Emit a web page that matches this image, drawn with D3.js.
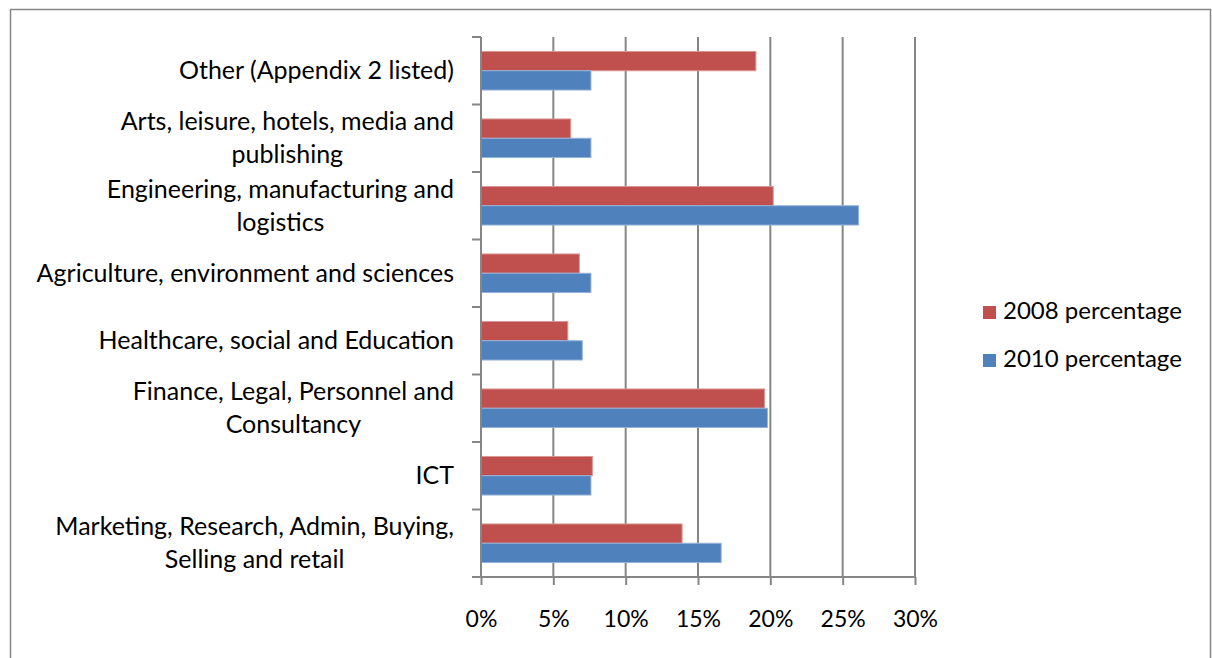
<!DOCTYPE html>
<html>
<head>
<meta charset="utf-8">
<script src="https://cdn.jsdelivr.net/npm/d3@7"></script>
<style>
  html, body { margin: 0; padding: 0; background: #fff; }
  svg { display: block; }
  text { font-family: Lato, "Open Sans", sans-serif; fill: #000; }
</style>
</head>
<body>
<svg id="chart" width="1212" height="658"></svg>
<script>
// Sectors, listed top to bottom; a "|" marks where a label wraps.
const categories = [
  "Other (Appendix 2 listed)",
  "Arts, leisure, hotels, media and|publishing",
  "Engineering, manufacturing and|logistics",
  "Agriculture, environment and sciences",
  "Healthcare, social and Education",
  "Finance, Legal, Personnel and|Consultancy",
  "ICT",
  "Marketing, Research, Admin, Buying,|Selling and retail"
];
const seriesNames = ["2008 percentage", "2010 percentage"];
const values2008 = [19.0, 6.2, 20.2, 6.8, 6.0, 19.6, 7.7, 13.9];
const values2010 = [7.6, 7.6, 26.1, 7.6, 7.0, 19.8, 7.6, 16.6];
const xTicks = [0, 5, 10, 15, 20, 25, 30];

const colors = ["#C0504D", "#4F81BD"];
const edges = ["#D99694", "#95B3D7"];

const svg = d3.select("#chart");

// outer chart frame
svg.append("rect")
  .attr("x", 10.5).attr("y", 9.5)
  .attr("width", 1200).attr("height", 660)
  .attr("fill", "#fff").attr("stroke", "#868686").attr("stroke-width", 1.5);

const plot = { left: 481, right: 915, top: 37, bottom: 577 };

const x = d3.scaleLinear().domain([0, 30]).range([plot.left, plot.right]);

// gap width 150%: the two bars fill 2 of every 3.5 parts of a category step
const y = d3.scaleBand().domain(categories)
  .range([plot.top, plot.bottom])
  .paddingInner(1.5 / 3.5).paddingOuter(0.75 / 3.5);
const ySeries = d3.scaleBand().domain([0, 1]).range([0, y.bandwidth()]);

const gridColor = "#868686";

// vertical gridlines
svg.append("g").selectAll("line").data(xTicks.slice(1)).join("line")
  .attr("x1", d => x(d)).attr("x2", d => x(d))
  .attr("y1", plot.top).attr("y2", plot.bottom)
  .attr("stroke", gridColor).attr("stroke-width", 2);

// bars
const rows = categories.map((c, i) => ({ c, v: [values2008[i], values2010[i]] }));
const barG = svg.append("g");
rows.forEach(r => {
  r.v.forEach((v, s) => {
    barG.append("rect")
      .attr("x", x(0))
      .attr("y", y(r.c) + ySeries(s))
      .attr("width", x(v) - x(0))
      .attr("height", ySeries.bandwidth())
      .attr("fill", colors[s])
      .attr("stroke", edges[s]).attr("stroke-width", 1);
  });
});

// x axis
const xAxis = d3.axisBottom(x).tickValues(xTicks)
  .tickFormat(d => d + "%").tickSize(8).tickPadding(26);
const gx = svg.append("g").attr("transform", `translate(0,${plot.bottom})`).call(xAxis);
gx.select(".domain").attr("stroke", gridColor).attr("stroke-width", 2)
  .attr("d", `M${plot.left},0H${plot.right}`);
gx.selectAll(".tick line").attr("stroke", gridColor).attr("stroke-width", 2);
gx.selectAll(".tick text").attr("font-size", 23).attr("font-family", "Lato").attr("fill", "#000");

// y axis line with ticks on category boundaries
const yAxisG = svg.append("g");
yAxisG.append("line")
  .attr("x1", plot.left).attr("x2", plot.left)
  .attr("y1", plot.top).attr("y2", plot.bottom)
  .attr("stroke", gridColor).attr("stroke-width", 2);
const bounds = d3.range(categories.length + 1).map(i => plot.top + i * y.step());
yAxisG.selectAll("line.tk").data(bounds).join("line").attr("class", "tk")
  .attr("x1", plot.left - 9).attr("x2", plot.left)
  .attr("y1", d => d).attr("y2", d => d)
  .attr("stroke", gridColor).attr("stroke-width", 2);

// category labels: right-aligned block, wrapped lines centred within it
const labelRight = 454;
const lineH = 33;
const labG = svg.append("g").attr("font-size", 25);
categories.forEach(c => {
  const lines = c.split("|");
  const cy = y(c) - y.step() * y.paddingOuter() + y.step() / 2;
  const g = labG.append("g");
  const texts = lines.map((ln, i) => g.append("text")
    .attr("y", cy + (i - (lines.length - 1) / 2) * lineH + 8.5)
    .text(ln));
  const widths = texts.map(t => t.node().getComputedTextLength());
  const maxW = d3.max(widths);
  const centre = labelRight - maxW / 2;
  texts.forEach(t => t.attr("x", centre).attr("text-anchor", "middle"));
});

// legend
const leg = svg.append("g");
seriesNames.forEach((name, i) => {
  const ly = 306 + i * 48;
  leg.append("rect").attr("x", 983).attr("y", ly)
    .attr("width", 13).attr("height", 13).attr("fill", colors[i]);
  leg.append("text").attr("x", 1003).attr("y", ly + 13)
    .attr("font-size", 24).text(name);
});
</script>
</body>
</html>
